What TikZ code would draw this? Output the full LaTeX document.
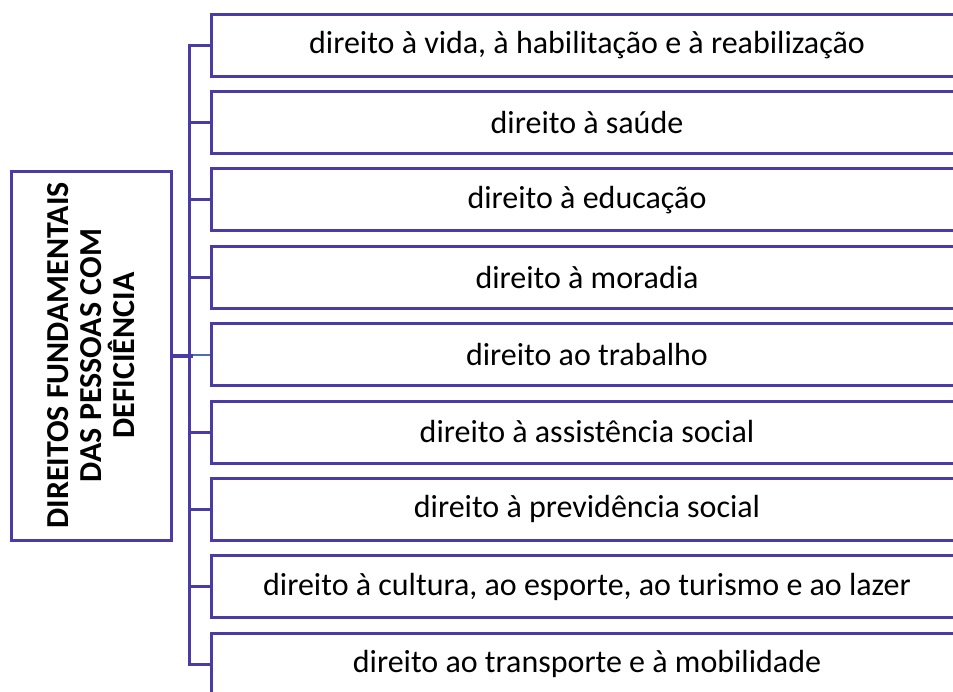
\documentclass[tikz,border=0pt]{standalone}
\usepackage{fontspec}
\setmainfont{Carlito}
\definecolor{boxc}{HTML}{4A3BA6}
\definecolor{bluec}{HTML}{4A70B0}
\begin{document}
\begin{tikzpicture}[x=1pt,y=-1pt,
  rbox/.style={draw=boxc, line width=3pt, minimum width=752pt, minimum height=62pt,
    inner sep=0pt, font=\fontsize{32}{36}\selectfont},
  conn/.style={draw=boxc, line width=3pt},
]
\useasboundingbox (0,0) rectangle (953,691);
\clip (0,0) rectangle (953,691);
\node[draw=boxc, line width=3pt, rotate=90, minimum width=369pt, minimum height=160pt,
  align=center, font=\bfseries\fontsize{32}{33}\selectfont] (root) at (91,355.5)
  {DIREITOS FUNDAMENTAIS\\DAS PESSOAS COM\\DEFICIÊNCIA};
\node[rbox] (b1) at (587,45) {direito à vida, à habilitação e à reabilização};
\node[rbox] (b2) at (587,122.4) {direito à saúde};
\node[rbox] (b3) at (587,199.8) {direito à educação};
\node[rbox] (b4) at (587,277.2) {direito à moradia};
\node[rbox] (b5) at (587,354.6) {direito ao trabalho};
\node[rbox] (b6) at (587,432) {direito à assistência social};
\node[rbox] (b7) at (587,509.4) {direito à previdência social};
\node[rbox] (b8) at (587,586.8) {direito à cultura, ao esporte, ao turismo e ao lazer};
\node[rbox] (b9) at (587,664.2) {direito ao transporte e à mobilidade};
\draw[conn] (b1.west) -- ++(-20,0) |- (b9.west);
\foreach \i in {2,3,4,6,7,8} \draw[conn] (b\i.west) -- ++(-20,0);
\draw[draw=bluec, line width=2pt] (b5.west) -- ++(-20,0);
\draw[conn, line width=4pt] (root.south) -- ++(20,0);
\end{tikzpicture}
\end{document}
